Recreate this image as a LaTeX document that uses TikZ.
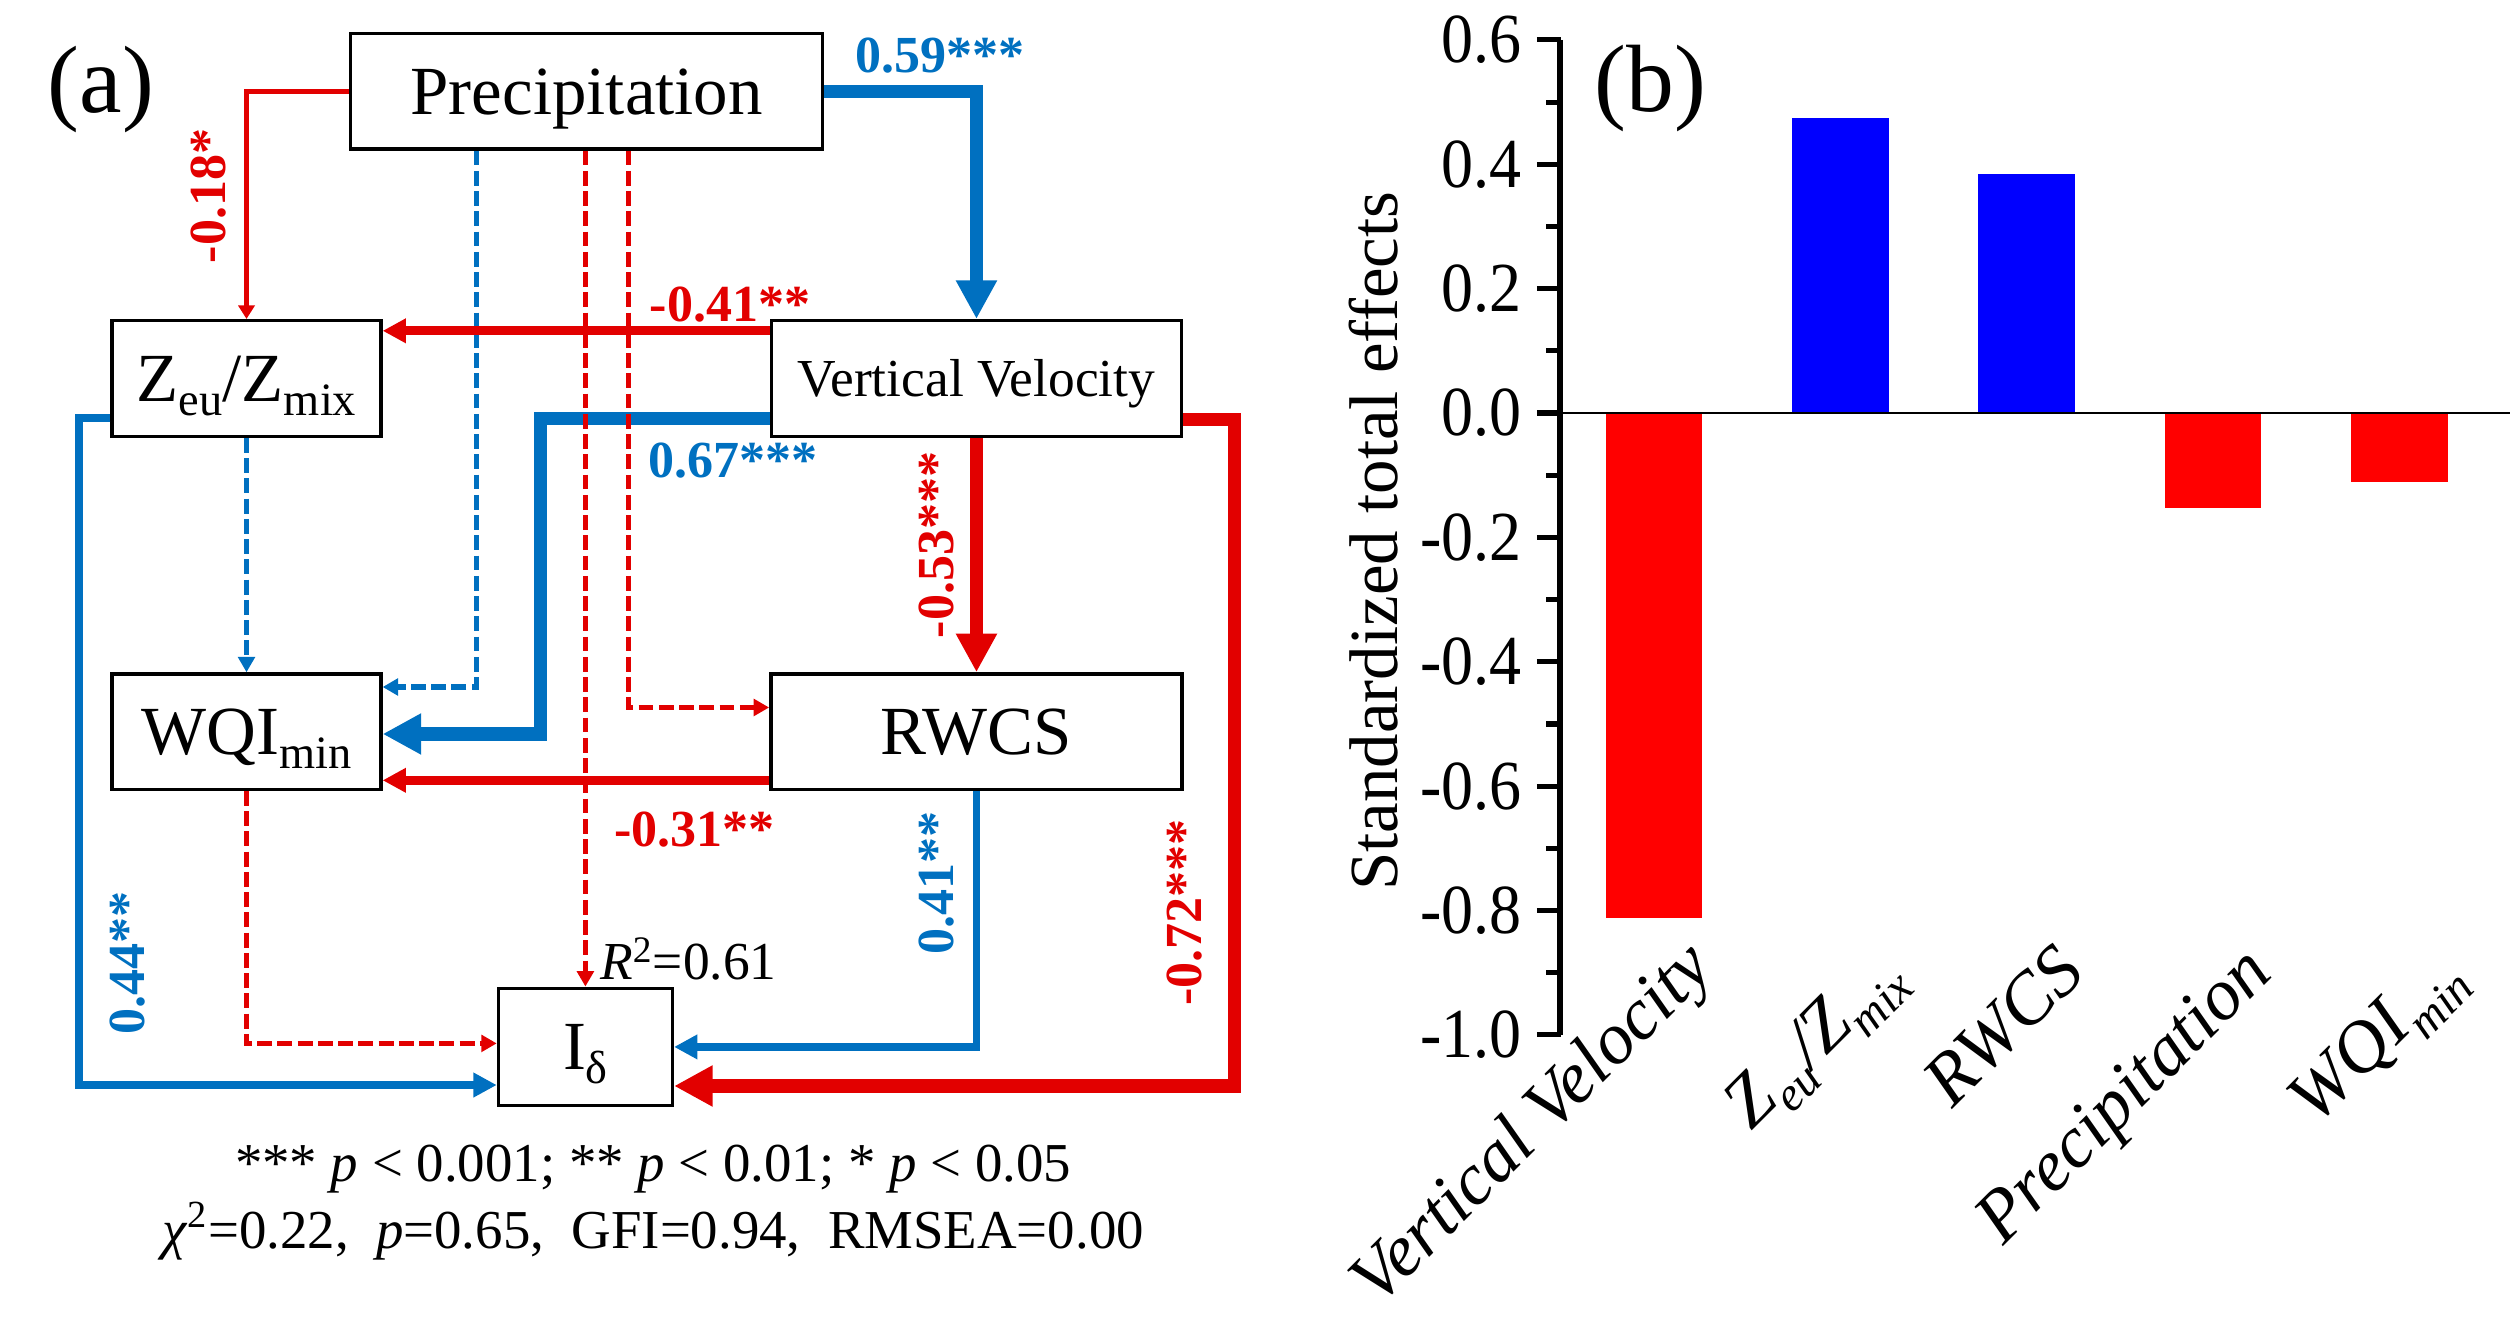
\documentclass[tikz,border=0pt]{standalone}
\usepackage{fontspec}
\setmainfont{Liberation Serif}
\usetikzlibrary{arrows.meta,calc}
\definecolor{cr}{RGB}{226,0,0}
\definecolor{cb}{RGB}{0,112,192}
\definecolor{barred}{RGB}{255,0,0}
\definecolor{barblue}{RGB}{0,0,255}
\newcommand\sbs[1]{\raisebox{-5pt}{\fontsize{16.5}{17}\selectfont #1}}
\newcommand\sbsx[1]{\raisebox{-6pt}{\fontsize{17}{17}\selectfont #1}}
\tikzset{
 box/.style={draw, line width=1.2pt, inner sep=0pt, font=\fontsize{24.5}{28}\selectfont, text height=16.2pt, text depth=0pt},
 lbl/.style={inner sep=0pt, font=\bfseries\fontsize{18.5}{20}\selectfont},
 thinr/.style={draw=cr, line width=1.8pt, -{Triangle[length=4.8pt,width=5.7pt]}},
 dashr/.style={draw=cr, line width=1.9pt, dash pattern=on 5.3pt off 1.9pt, -{Triangle[length=5.5pt,width=5.9pt]}},
 dashb/.style={draw=cb, line width=1.9pt, dash pattern=on 5.3pt off 1.9pt, -{Triangle[length=5.5pt,width=5.9pt]}},
 medr/.style={draw=cr, line width=3.1pt, -{Triangle[length=8.3pt,width=8.3pt]}},
 medb/.style={draw=cb, line width=2.8pt, -{Triangle[length=8.3pt,width=8.3pt]}},
 thickr/.style={draw=cr, line width=4.7pt, -{Triangle[length=13.7pt,width=13.7pt]}},
 thickb/.style={draw=cb, line width=4.7pt, -{Triangle[length=13.7pt,width=13.7pt]}},
 panel/.style={inner sep=0pt, font=\fontsize{34}{36}\selectfont},
 note/.style={inner sep=0pt, anchor=base, font=\fontsize{19.5}{22}\selectfont},
 ticklab/.style={inner sep=0pt, anchor=east, font=\fontsize{25}{26}\selectfont},
 xlab/.style={inner sep=0pt, rotate=45, anchor=base east, font=\itshape\fontsize{26}{28}\selectfont},
}
\begin{document}
\begin{tikzpicture}[x=0.02cm,y=-0.02cm]
\useasboundingbox (0,0) rectangle (1568,823);
% ---------------- panel (a) ----------------
\node[panel] (pa) at (63,56) {(a)};
\node[box, minimum width=5.9cm, minimum height=1.44cm] (prec) at (366.5,57) {Precipitation};
\node[box, minimum width=3.36cm, minimum height=1.444cm] (zeu) at (154,236.4) {Z\sbs{eu}/Z\sbs{mix}};
\node[box, minimum width=5.12cm, minimum height=1.444cm, font=\fontsize{19}{22}\selectfont, text height=12.6pt] (vv) at (610,236.4) {Vertical Velocity};
\node[box, minimum width=3.36cm, minimum height=1.44cm] (wqi) at (154,457) {WQI\sbs{min}};
\node[box, minimum width=5.14cm, minimum height=1.44cm] (rwcs) at (610,457) {RWCS};
\node[box, minimum width=2.174cm, minimum height=1.466cm] (idel) at (365.7,654) {I\sbs{δ}};

% solid blue first (dashed lines run over it)
\draw[thickb] ($(vv.south west)+(0,-12.2)$) -| ($(wqi.east)+(98.5,1.5)$) -- ($(wqi.east)+(0,1.5)$);
\draw[thickb] (prec.east) -| (vv.north);
\draw[medb] ($(zeu.south west)+(0,-12.7)$) -| ($(idel.west)+(-261,23.8)$) -- ($(idel.west)+(0,23.8)$);
\draw[medb] (rwcs.south) |- (idel.east);
% dashed
\draw[dashb] (zeu.south) -- (wqi.north);
\draw[dashb] ($(prec.south west)+(79.8,0)$) |- ($(wqi.north east)+(0,9.2)$);
\draw[dashr] ($(prec.south west)+(174.6,0)$) |- ($(rwcs.north west)+(0,22)$);
\draw[dashr] (prec.south -| idel.north) -- (idel.north);
\draw[dashr] (wqi.south) |- ($(idel.west)+(0,-2.2)$);
% red solid
\draw[thinr] (prec.west) -| (zeu.north);
\draw[medr] ($(vv.north west)+(0,7.4)$) -- ($(zeu.north east)+(0,7.4)$);
\draw[medr] ($(rwcs.south west)+(0,-6.6)$) -- ($(wqi.south east)+(0,-6.6)$);
\draw[thickr] (vv.south) -- (rwcs.north);
\draw[thickr] ($(vv.south east)+(0,-11.5)$) -| ($(idel.east)+(350,24.4)$) -- ($(idel.east)+(0,24.4)$);

% coefficient labels
\node[lbl, text=cr, rotate=90] (l018) at (130,122.5) {-0.18*};
\node[lbl, text=cb] (l059) at (587,34.5) {0.59***};
\node[lbl, text=cr] (l041) at (456,190) {-0.41**};
\node[lbl, text=cb] (l067) at (458,288) {0.67***};
\node[lbl, text=cr, rotate=90] (l053) at (585,340.5) {-0.53***};
\node[lbl, text=cr] (l031) at (434,518) {-0.31**};
\node[lbl, text=cb, rotate=90] (l041b) at (585,551.5) {0.41**};
\node[lbl, text=cr, rotate=90] (l072) at (740,570) {-0.72***};
\node[lbl, text=cb, rotate=90] (l044) at (79.5,601.5) {0.44**};
\node[inner sep=0pt, anchor=base, font=\fontsize{19}{20}\selectfont] (r2) at (430,612) {\textit{R}\textsuperscript{2}=0.61};

\node[note] (n1) at (408,738) {*** \textit{p} < 0.001;\ ** \textit{p} < 0.01;\ * \textit{p} < 0.05};
\node[note] (n2) at (408,780) {\textit{χ}\textsuperscript{2}=0.22,\ \ \textit{p}=0.65,\ \ GFI=0.94,\ \ RMSEA=0.00};

% ---------------- panel (b) ----------------
\node[panel] (pb) at (1031,55) {(b)};
% bars
\fill[barred]  (1003.1,258) rectangle (1063.5,573.7);
\fill[barblue] (1119.5,73.9) rectangle (1179.9,258);
\fill[barblue] (1235.9,108.6) rectangle (1296.3,258);
\fill[barred]  (1352.3,258) rectangle (1412.7,317.5);
\fill[barred]  (1468.7,258) rectangle (1529.1,301.4);
% zero line
\draw[line width=0.9pt] (974.3,258) -- (1568,258);
% axis
\draw[line width=2.1pt] (974.3,{258-0.6*388.5}) -- (974.3,{258+1.0*388.5});
\foreach \v/\t [count=\i] in {0.6/0.6,0.4/0.4,0.2/0.2,0.0/0.0,-0.2/-0.2,-0.4/-0.4,-0.6/-0.6,-0.8/-0.8,-1.0/-1.0}{
  \draw[line width=1.8pt] (960,{258-\v*388.5}) -- (975,{258-\v*388.5});
  \node[ticklab] (yt\i) at (951,{258-\v*388.5}) {\scalebox{0.91}[1]{\t}};
}
\foreach \v in {0.5,0.3,0.1,-0.1,-0.3,-0.5,-0.7,-0.9}{
  \draw[line width=1.8pt] (966,{258-\v*388.5}) -- (975,{258-\v*388.5});
}
\node[inner sep=0pt, rotate=90, font=\fontsize{24.5}{26}\selectfont] (ylab) at (858,338) {Standardized total effects};
% x labels
\node[xlab] (x1) at (1072,606) {Vertical Velocity};
\node[xlab] (x2) at (1190,611) {Z\sbsx{eu}/Z\sbsx{mix}};
\node[xlab] (x3) at (1304,609) {RWCS};
\node[xlab] (x4) at (1421,609) {Precipitation};
\node[xlab] (x5) at (1540,611) {WQI\sbsx{min}};
\end{tikzpicture}
\end{document}
